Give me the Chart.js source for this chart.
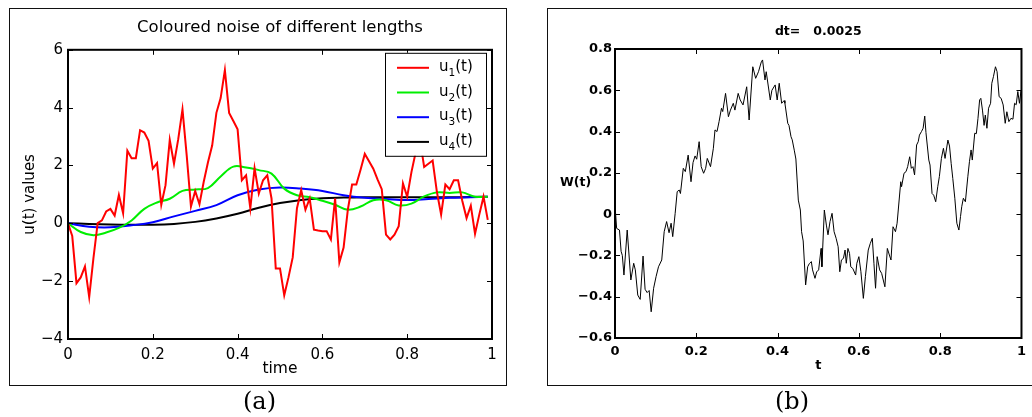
<!DOCTYPE html>
<html>
<head>
<meta charset="utf-8">
<script src="https://cdn.jsdelivr.net/npm/chart.js@4/dist/chart.umd.min.js"></script>
<style>
  body { margin: 0; background: #fff; width: 1032px; height: 417px; overflow: hidden; position: relative; }
  canvas { position: absolute; top: 0; }
  .box { position: absolute; border: 1.5px solid #111; }
  .lbl { position: absolute; font-family: "DejaVu Serif", serif; font-size: 24px; color: #000; }
  .wt { position: absolute; font-family: "DejaVu Sans", sans-serif; font-weight: bold; font-size: 12.5px; color: #000; }
</style>
</head>
<body>
<div class="box" style="left:9px;top:8px;width:496px;height:376px"></div>
<div class="box" style="left:547px;top:8px;width:500px;height:376px"></div>
<canvas id="chartA" width="516" height="417" style="left:0"></canvas>
<canvas id="chartB" width="516" height="417" style="left:516px"></canvas>
<div class="wt" style="left:560px;top:174px">W(t)</div>
<div class="lbl" style="left:243px;top:387px">(a)</div>
<div class="lbl" style="left:775px;top:387px">(b)</div>
<script>
// panel (a): coloured noise
const u1Step = 0.01;
const u1 = [0, -0.44, -2.07, -1.87, -1.49, -2.55, -1.2, 0.01, 0.1, 0.41,
  0.5, 0.27, 0.98, 0.35, 2.51, 2.25, 2.25, 3.22, 3.14, 2.85,
  1.89, 2.08, 0.64, 1.32, 2.88, 2.06, 2.91, 3.94, 2.34, 0.58,
  1.12, 0.66, 1.43, 2.1, 2.69, 3.82, 4.33, 5.3, 3.82, 3.54,
  3.25, 1.49, 1.66, 0.52, 1.91, 1.03, 1.49, 1.66, 0.86, -1.56,
  -1.56, -2.49, -1.87, -1.18, 0.52, 1.15, 0.47, 0.86, -0.22, -0.25,
  -0.27, -0.27, -0.56, 0.86, -1.35, -0.84, 0.47, 1.34, 1.34, 1.85,
  2.4, 2.15, 1.89, 1.52, 1.18, -0.39, -0.56, -0.39, -0.1, 1.38,
  0.92, 1.77, 2.46, 2.9, 1.95, 2.06, 2.17, 1.09, 0.3, 1.34,
  1.18, 1.49, 1.49, 0.77, 0.18, 0.61, -0.36, 0.3, 0.92, 0.12];

const u2T = [0, 0.03, 0.06, 0.09, 0.12, 0.15, 0.18, 0.21, 0.24, 0.27, 0.3, 0.33,
  0.36, 0.39, 0.42, 0.45, 0.48, 0.51, 0.54, 0.57, 0.6, 0.63, 0.66, 0.69,
  0.72, 0.75, 0.78, 0.81, 0.84, 0.87, 0.9, 0.93, 0.96, 0.99];
const u2 = [0, -0.3, -0.41, -0.32, -0.16, 0.1, 0.5, 0.72, 0.85, 1.12, 1.17, 1.22,
  1.62, 1.96, 1.93, 1.84, 1.72, 1.2, 0.97, 0.9, 0.78, 0.64, 0.47, 0.58,
  0.8, 0.8, 0.62, 0.68, 0.93, 1.07, 1.05, 1.07, 0.92, 0.92];

const u34T = [0, 0.05, 0.1, 0.15, 0.2, 0.25, 0.3, 0.35, 0.4, 0.45, 0.5,
  0.55, 0.6, 0.65, 0.7, 0.75, 0.8, 0.85, 0.9, 0.95, 0.99];
const u3 = [0, -0.12, -0.14, -0.07, 0.04, 0.24, 0.43, 0.63, 0.97, 1.17, 1.24,
  1.2, 1.12, 0.97, 0.88, 0.84, 0.81, 0.84, 0.88, 0.9, 0.92];
const u4 = [0, -0.02, -0.04, -0.05, -0.05, -0.02, 0.05, 0.17, 0.33, 0.54, 0.7,
  0.81, 0.87, 0.89, 0.9, 0.9, 0.9, 0.9, 0.9, 0.91, 0.92];

// panel (b): Brownian path W(t), dt = 0.0025
const wT = [0, 0.004, 0.011, 0.015, 0.018, 0.022, 0.03, 0.039, 0.046, 0.05,
  0.056, 0.062, 0.069, 0.074, 0.079, 0.084, 0.089, 0.095, 0.101, 0.107,
  0.115, 0.121, 0.127, 0.133, 0.138, 0.142, 0.148, 0.153, 0.158, 0.161,
  0.168, 0.173, 0.18, 0.187, 0.192, 0.197, 0.201, 0.207, 0.212, 0.218,
  0.223, 0.227, 0.235, 0.242, 0.246, 0.251, 0.256, 0.262, 0.265, 0.272,
  0.279, 0.284, 0.291, 0.295, 0.303, 0.308, 0.315, 0.324, 0.33, 0.339,
  0.346, 0.353, 0.36, 0.363, 0.369, 0.372, 0.382, 0.386, 0.394, 0.399,
  0.404, 0.41, 0.416, 0.418, 0.425, 0.428, 0.433, 0.436, 0.441, 0.445,
  0.451, 0.456, 0.459, 0.463, 0.469, 0.474, 0.478, 0.483, 0.486, 0.492,
  0.496, 0.501, 0.507, 0.509, 0.515, 0.52, 0.524, 0.529, 0.534, 0.539,
  0.544, 0.549, 0.553, 0.557, 0.562, 0.566, 0.569, 0.573, 0.577, 0.58,
  0.585, 0.592, 0.595, 0.6, 0.605, 0.611, 0.616, 0.623, 0.628, 0.633,
  0.637, 0.641, 0.645, 0.651, 0.656, 0.664, 0.67, 0.675, 0.679, 0.684,
  0.69, 0.694, 0.703, 0.705, 0.711, 0.716, 0.72, 0.725, 0.729, 0.733,
  0.737, 0.742, 0.746, 0.749, 0.754, 0.758, 0.762, 0.765, 0.772, 0.775,
  0.78, 0.784, 0.789, 0.794, 0.798, 0.803, 0.808, 0.812, 0.819, 0.823,
  0.827, 0.831, 0.836, 0.841, 0.846, 0.85, 0.853, 0.857, 0.862, 0.868,
  0.872, 0.876, 0.879, 0.885, 0.889, 0.893, 0.897, 0.9, 0.904, 0.908,
  0.911, 0.915, 0.919, 0.924, 0.927, 0.931, 0.936, 0.94, 0.945, 0.95,
  0.955, 0.96, 0.964, 0.969, 0.974, 0.979, 0.983, 0.987, 0.991, 0.995, 0.999];
const wV = [0.044, -0.069, -0.077, -0.18, -0.2, -0.295, -0.077, -0.319, -0.238, -0.27,
  -0.392, -0.413, -0.203, -0.364, -0.38, -0.37, -0.473, -0.359, -0.303, -0.255,
  -0.222, -0.085, -0.036, -0.09, -0.044, -0.109, 0.004, 0.109, 0.117, 0.1,
  0.222, 0.206, 0.286, 0.157, 0.25, 0.282, 0.266, 0.351, 0.23, 0.198,
  0.222, 0.27, 0.23, 0.319, 0.408, 0.4, 0.448, 0.513, 0.497, 0.585,
  0.472, 0.504, 0.537, 0.504, 0.585, 0.553, 0.529, 0.617, 0.456, 0.714,
  0.658, 0.69, 0.738, 0.747, 0.65, 0.69, 0.553, 0.6, 0.626, 0.553,
  0.634, 0.537, 0.55, 0.537, 0.44, 0.43, 0.375, 0.36, 0.31, 0.267,
  0.068, 0.02, -0.085, -0.13, -0.343, -0.255, -0.24, -0.23, -0.27, -0.311,
  -0.28, -0.27, -0.166, -0.255, 0.02, -0.053, -0.1, -0.036, 0.004, -0.085,
  -0.117, -0.158, -0.279, -0.222, -0.214, -0.174, -0.238, -0.166, -0.19, -0.255,
  -0.263, -0.295, -0.238, -0.206, -0.279, -0.408, -0.303, -0.174, -0.142, -0.117,
  -0.238, -0.359, -0.206, -0.27, -0.287, -0.352, -0.166, -0.198, -0.222, -0.061,
  -0.085, -0.044, 0.157, 0.133, 0.198, 0.206, 0.23, 0.278, 0.222, 0.23,
  0.19, 0.335, 0.351, 0.383, 0.4, 0.416, 0.475, 0.395, 0.262, 0.238,
  0.1, 0.092, 0.06, 0.133, 0.182, 0.27, 0.319, 0.27, 0.359, 0.33,
  0.246, 0.173, 0.077, -0.044, -0.077, -0.012, 0.036, 0.077, 0.06, 0.181,
  0.254, 0.311, 0.262, 0.392, 0.39, 0.464, 0.553, 0.561, 0.504, 0.43,
  0.48, 0.416, 0.513, 0.537, 0.634, 0.666, 0.714, 0.69, 0.569, 0.561,
  0.529, 0.44, 0.496, 0.448, 0.464, 0.46, 0.537, 0.53, 0.594, 0.537, 0.601];

const pts = (ts, vs) => vs.map((v, i) => ({ x: ts[i], y: v }));
// matlab style tick text: "1" not "1.0", minus sign instead of hyphen
const fmt = v => String(+Number(v).toFixed(4)).replace('-', '\u2212');

// box round the plot area with inward ticks on all four sides
const frame = {
  id: 'frame',
  afterDraw(chart, args, opts) {
    const { ctx, chartArea: a, scales: { x, y } } = chart;
    ctx.save();
    ctx.strokeStyle = '#000';
    ctx.lineWidth = opts.width;
    ctx.strokeRect(a.left, a.top, a.right - a.left, a.bottom - a.top);
    ctx.lineWidth = 1;
    ctx.beginPath();
    x.ticks.forEach(t => {
      const p = Math.round(x.getPixelForValue(t.value)) + 0.5;
      ctx.moveTo(p, a.bottom); ctx.lineTo(p, a.bottom - opts.tick);
      ctx.moveTo(p, a.top); ctx.lineTo(p, a.top + opts.tick);
    });
    y.ticks.forEach(t => {
      const p = Math.round(y.getPixelForValue(t.value)) + 0.5;
      ctx.moveTo(a.left, p); ctx.lineTo(a.left + opts.tick, p);
      ctx.moveTo(a.right, p); ctx.lineTo(a.right - opts.tick, p);
    });
    ctx.stroke();
    ctx.restore();
  }
};

// matlab style legend box inside the top right corner
const boxLegend = {
  id: 'boxLegend',
  afterDraw(chart) {
    const { ctx, chartArea: a } = chart;
    const w = 101, h = 103;
    const x0 = a.right - 6 - w, y0 = a.top + 3;
    ctx.save();
    ctx.fillStyle = '#fff';
    ctx.fillRect(x0, y0, w, h);
    ctx.strokeStyle = '#000';
    ctx.lineWidth = 1;
    ctx.strokeRect(x0 + 0.5, y0 + 0.5, w, h);
    chart.data.datasets.forEach((d, i) => {
      const yy = y0 + 15 + i * 24.7;
      ctx.strokeStyle = d.borderColor;
      ctx.lineWidth = 2;
      ctx.beginPath();
      ctx.moveTo(x0 + 12, yy);
      ctx.lineTo(x0 + 44, yy);
      ctx.stroke();
      ctx.fillStyle = '#000';
      ctx.textBaseline = 'alphabetic';
      ctx.font = '15px "DejaVu Sans"';
      let tx = x0 + 54;
      ctx.fillText('u', tx, yy + 3);
      tx += ctx.measureText('u').width;
      ctx.font = '10.5px "DejaVu Sans"';
      ctx.fillText(String(i + 1), tx, yy + 8);
      tx += ctx.measureText(String(i + 1)).width;
      ctx.font = '15px "DejaVu Sans"';
      ctx.fillText('(t)', tx, yy + 3);
    });
    ctx.restore();
  }
};

const fontA = { family: 'DejaVu Sans', size: 15 };

new Chart(document.getElementById('chartA'), {
  type: 'line',
  data: {
    datasets: [
      { label: 'u1(t)', data: u1.map((v, i) => ({ x: i * u1Step, y: v })), borderColor: '#ff0000', borderWidth: 2, tension: 0 },
      { label: 'u2(t)', data: pts(u2T, u2), borderColor: '#00ee00', borderWidth: 2, tension: 0.4 },
      { label: 'u3(t)', data: pts(u34T, u3), borderColor: '#0000ff', borderWidth: 2, tension: 0.4 },
      { label: 'u4(t)', data: pts(u34T, u4), borderColor: '#000000', borderWidth: 2, tension: 0.4 }
    ]
  },
  options: {
    responsive: false,
    animation: false,
    events: [],
    elements: { point: { radius: 0 } },
    layout: { padding: { left: 0, right: 24, top: 10, bottom: 0 } },
    plugins: {
      legend: { display: false },
      tooltip: { enabled: false },
      title: {
        display: true,
        fullSize: false,
        text: 'Coloured noise of different lengths',
        color: '#000',
        font: { family: 'DejaVu Sans', size: 16.5, weight: 'normal' },
        padding: { top: 8, bottom: 12 }
      },
      frame: { width: 2, tick: 5 }
    },
    scales: {
      x: {
        type: 'linear', min: 0, max: 1,
        ticks: { stepSize: 0.2, color: '#000', font: fontA, padding: 7, maxRotation: 0, callback: fmt },
        grid: { display: false, drawTicks: false },
        border: { display: false },
        title: { display: true, text: 'time', color: '#000', font: { family: 'DejaVu Sans', size: 15.5 }, padding: { top: 0, bottom: 39 } },
        afterFit: s => { s.height = 78; }
      },
      y: {
        min: -4, max: 6,
        ticks: { stepSize: 2, color: '#000', font: fontA, padding: 5, callback: fmt },
        grid: { display: false, drawTicks: false },
        border: { display: false },
        title: { display: true, text: 'u(t) values', color: '#000', font: fontA, padding: { top: 21, bottom: 0 } },
        afterFit: s => { s.width = 68; }
      }
    }
  },
  plugins: [frame, boxLegend]
});

const fontB = { family: 'DejaVu Sans', size: 13, weight: 'bold' };

new Chart(document.getElementById('chartB'), {
  type: 'line',
  data: {
    datasets: [
      { label: 'W(t)', data: pts(wT, wV), borderColor: '#000', borderWidth: 1, tension: 0 }
    ]
  },
  options: {
    responsive: false,
    animation: false,
    events: [],
    elements: { point: { radius: 0 } },
    layout: { padding: { left: 0, right: 9, top: 10, bottom: 0 } },
    plugins: {
      legend: { display: false },
      tooltip: { enabled: false },
      title: {
        display: true,
        fullSize: false,
        text: 'dt=   0.0025',
        color: '#000',
        font: { family: 'DejaVu Sans', size: 12.5, weight: 'bold' },
        padding: { top: 14, bottom: 10 }
      },
      frame: { width: 2, tick: 5 }
    },
    scales: {
      x: {
        type: 'linear', min: 0, max: 1,
        ticks: { stepSize: 0.2, color: '#000', font: fontB, padding: 6, maxRotation: 0, callback: fmt },
        grid: { display: false, drawTicks: false },
        border: { display: false },
        title: { display: true, text: 't', color: '#000', font: fontB, padding: { top: 0, bottom: 44 } },
        afterFit: s => { s.height = 79; }
      },
      y: {
        min: -0.6, max: 0.8,
        ticks: { stepSize: 0.2, color: '#000', font: fontB, padding: 3, callback: fmt },
        grid: { display: false, drawTicks: false },
        border: { display: false },
        afterFit: s => { s.width = 99; }
      }
    }
  },
  plugins: [frame]
});
</script>
</body>
</html>
